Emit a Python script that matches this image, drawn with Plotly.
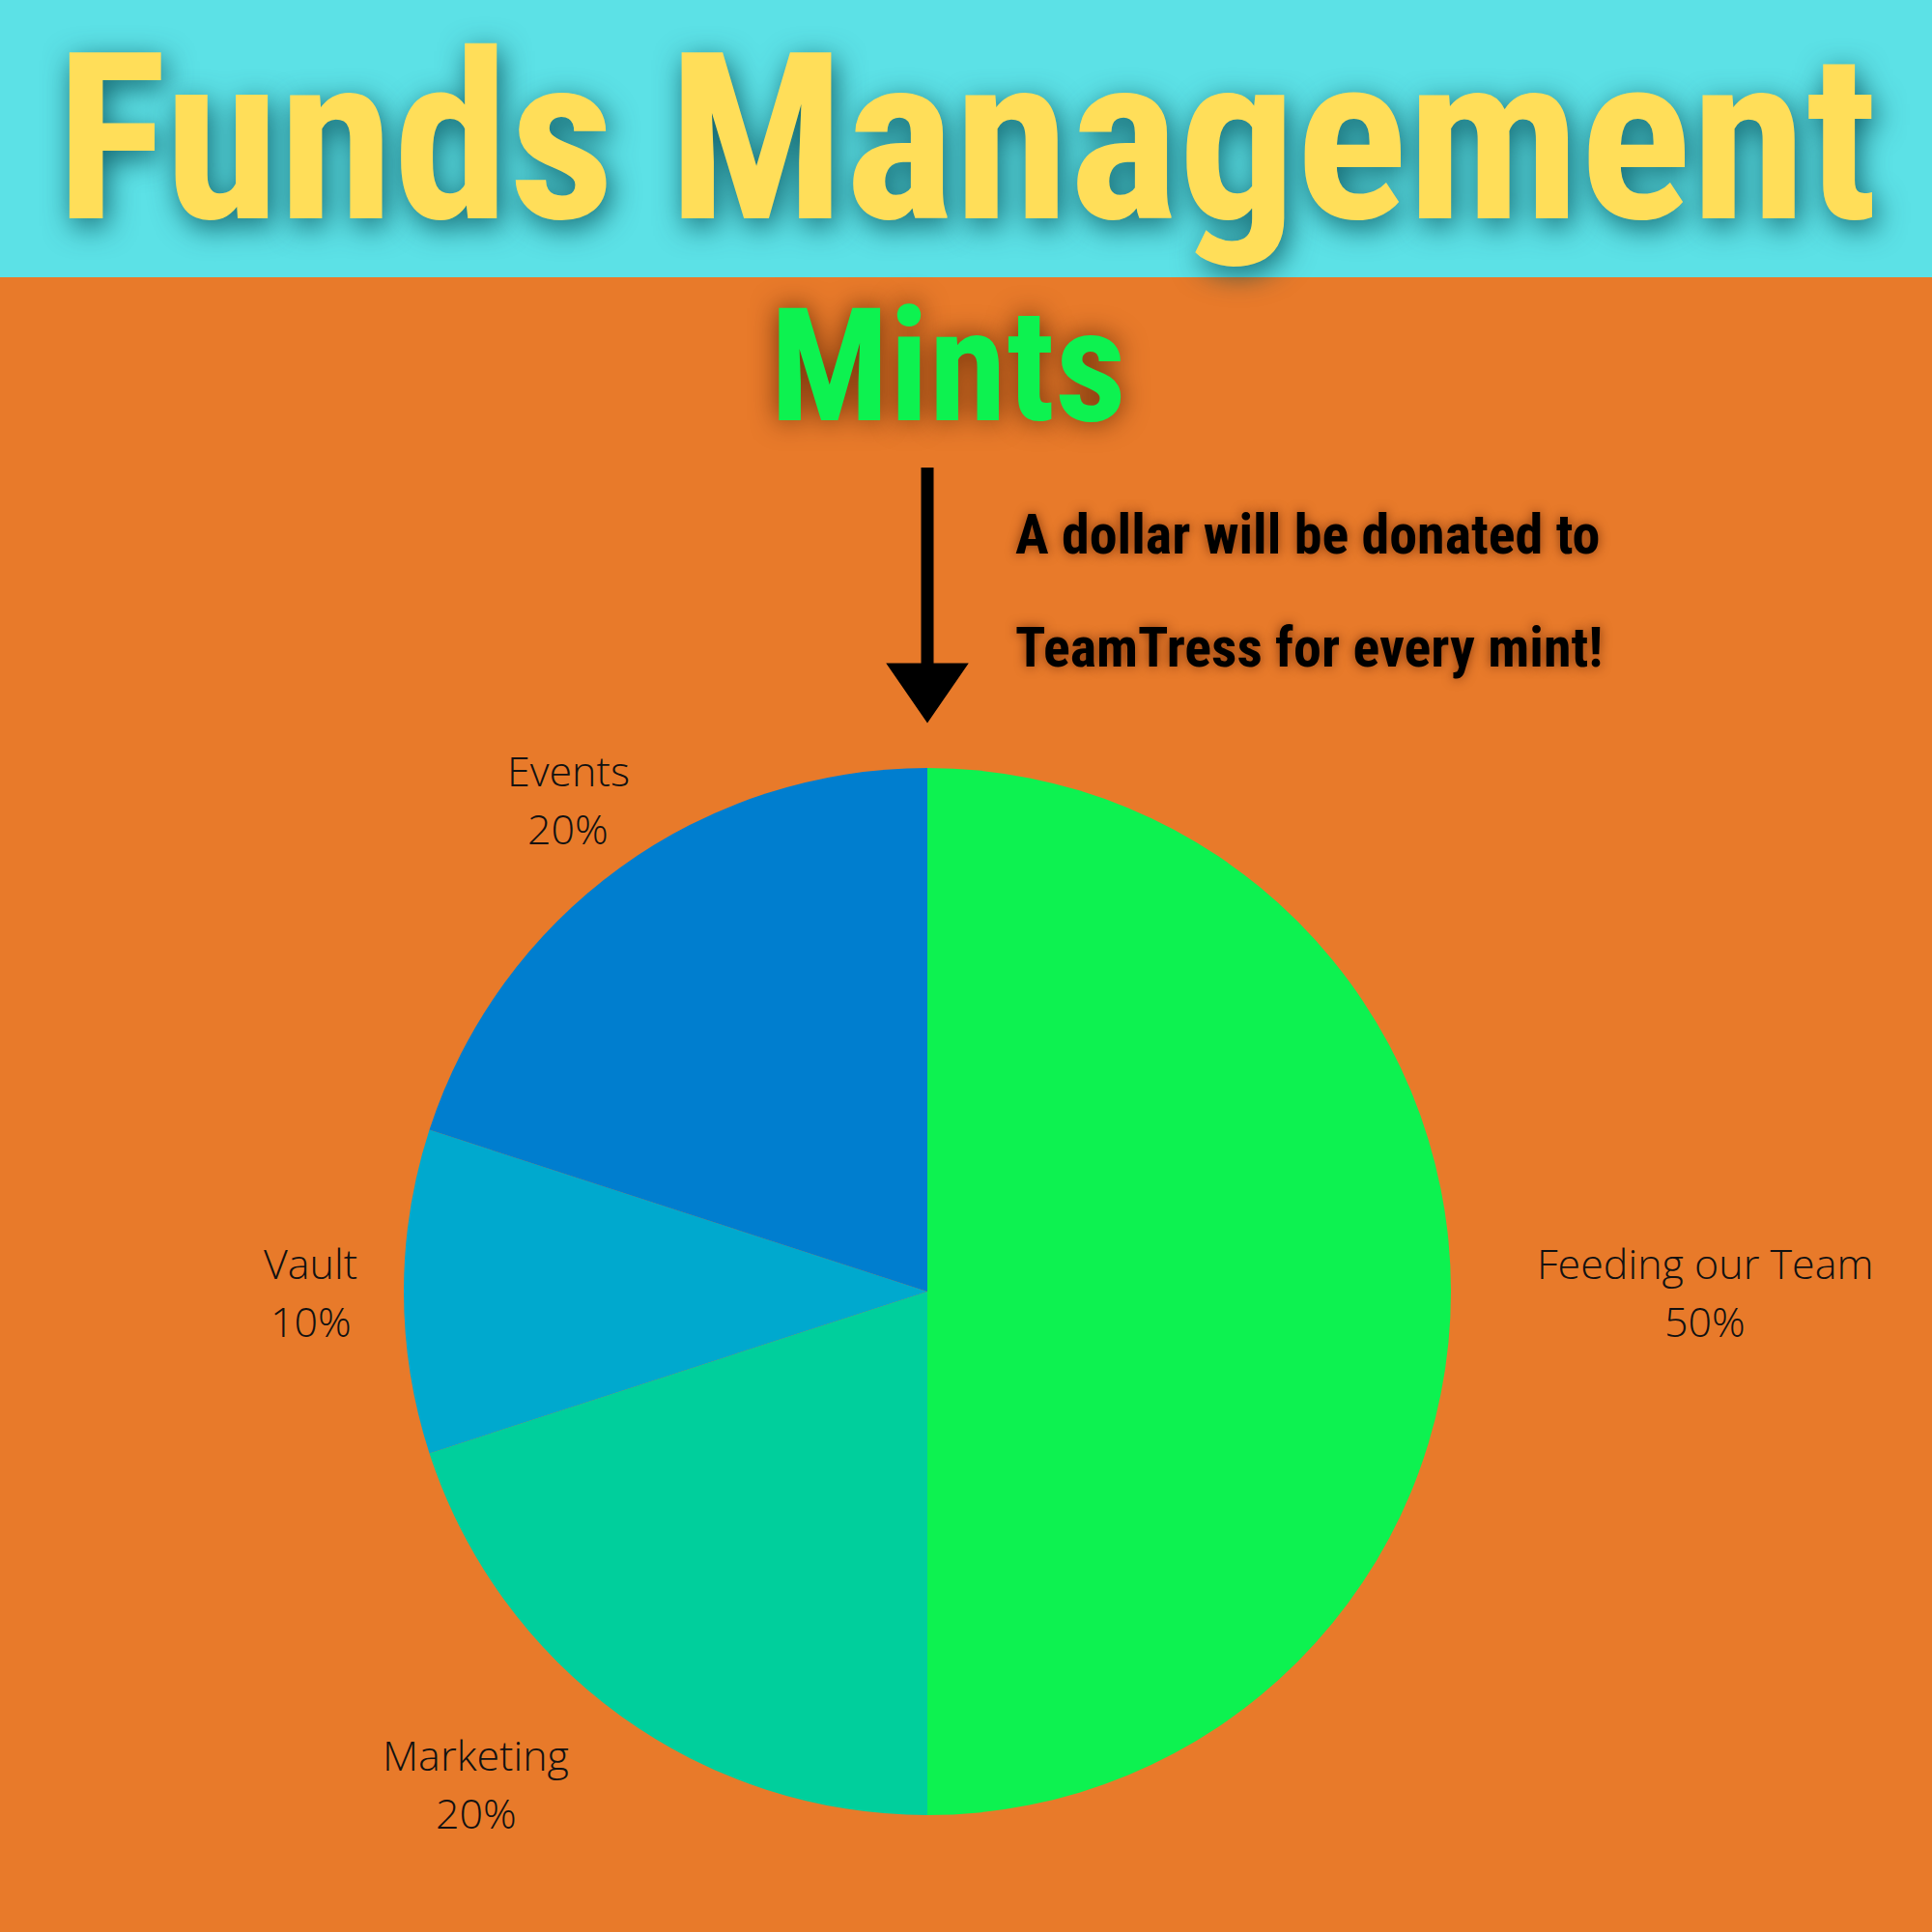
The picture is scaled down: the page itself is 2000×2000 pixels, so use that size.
import math
import plotly.graph_objects as go

# ---- data ----
labels = ["Feeding our Team", "Marketing", "Vault", "Events"]
values = [50, 20, 10, 20]
slice_colors = ["#0df250", "#00cf9c", "#00a9ce", "#007ecf"]

title_text = "Funds Management"
subtitle_text = "Mints"
note_lines = ["A dollar will be donated to", "TeamTress for every mint!"]

W = H = 2000
BG = "#e87a2a"
CYAN = "#5ce1e6"
YELLOW = "#ffde59"
GREEN = "#0df250"
COND = "Roboto Condensed, Open Sans Condensed, Liberation Sans Narrow, DejaVu Sans Condensed, sans-serif"

def px(x):
    return x / W

def py(y):
    return 1 - y / H

# pie geometry (pixels)
cx, cy, r = 960, 1337, 542

fig = go.Figure()
fig.add_trace(go.Pie(
    labels=labels, values=values, sort=False, direction="clockwise", rotation=0,
    marker=dict(colors=slice_colors, line=dict(width=0)),
    textinfo="none", hoverinfo="label+percent", showlegend=False,
    domain=dict(x=[px(cx - r), px(cx + r)], y=[py(cy + r), py(cy - r)]),
))

annotations = []
# slice labels placed outside each slice's mid-angle (computed from data)
LBL_SIZE = 43
total = sum(values)
start = 0.0
for lab, v in zip(labels, values):
    mid = start + v / total * 360 / 2
    start += v / total * 360
    a = math.radians(mid)
    s, c = math.sin(a), math.cos(a)
    hw = len(lab) * 0.25 * LBL_SIZE      # approx half width of label block
    hh = 48                                # approx half height of two-line block
    R = 562
    kx = 0.64 if c > 0.1 else 1.415
    bx = cx + R * s + (kx * hw if s > 0.1 else (-kx * hw if s < -0.1 else 0))
    by = cy - (R * c + (1.15 * hh if c > 0.1 else (-1.15 * hh if c < -0.1 else 0)))
    pct = f"{round(v / total * 100)}%"
    for k, t in enumerate([lab, pct]):
        annotations.append(dict(
            x=px(bx), y=py(by - 30 + 60 * k), xref="paper", yref="paper",
            xanchor="center", yanchor="middle", text=t, showarrow=False,
            font=dict(family="Open Sans", size=LBL_SIZE, color="#111111", weight=300),
        ))

annotations.append(dict(
    x=px(1000), y=py(144), xref="paper", yref="paper", xanchor="center", yanchor="middle",
    text=f"<b>{title_text}</b>", showarrow=False,
    font=dict(family=COND, size=241, color=YELLOW, shadow="4px 8px 30px rgba(0,70,80,0.8)"),
))
annotations.append(dict(
    x=px(981), y=py(380), xref="paper", yref="paper", xanchor="center", yanchor="middle",
    text=f"<b>{subtitle_text}</b>", showarrow=False,
    font=dict(family=COND, size=163, color=GREEN, shadow="0px 0px 28px rgba(80,30,0,0.8)"),
))
for i, line in enumerate(note_lines):
    annotations.append(dict(
        x=px(1049), y=py(553 + 117 * i), xref="paper", yref="paper", xanchor="left", yanchor="middle",
        text=f"<b>{line}</b>", showarrow=False,
        font=dict(family=COND, size=58, color="#000000", shadow="0px 0px 12px rgba(90,30,0,0.7)"),
    ))

shapes = [
    dict(type="rect", xref="paper", yref="paper", x0=0, x1=1, y0=py(287), y1=1,
         fillcolor=CYAN, line=dict(width=0), layer="below"),
    dict(type="line", xref="paper", yref="paper", x0=px(960), x1=px(960), y0=py(484), y1=py(700),
         line=dict(color="black", width=13)),
    dict(type="path", xref="paper", yref="paper",
         path=f"M {px(922)},{py(689)} L {px(998)},{py(689)} L {px(960)},{py(744)} Z",
         fillcolor="black", line=dict(color="black", width=5)),
]

fig.update_layout(
    width=W, height=H, margin=dict(l=0, r=0, t=0, b=0),
    paper_bgcolor=BG, plot_bgcolor=BG,
    annotations=annotations, shapes=shapes,
)
fig.write_html("out.html", config={"displayModeBar": False},
               post_script="document.body.style.margin='0px';")
